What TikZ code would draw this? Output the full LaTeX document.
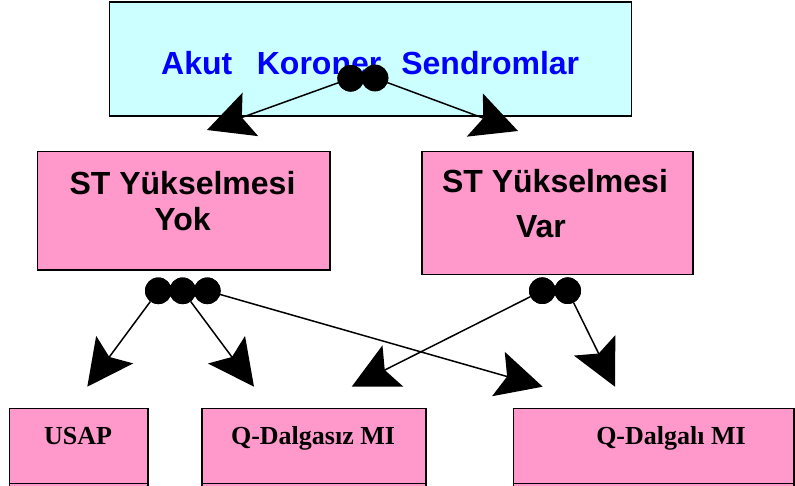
\documentclass[tikz,border=0pt]{standalone}
\usepackage{fontspec}
\setmainfont{Liberation Sans}
\newfontfamily\serifb{Liberation Serif}
\usetikzlibrary{arrows.meta}
\definecolor{cyanbg}{RGB}{204,255,255}
\definecolor{pinkbg}{RGB}{255,153,204}
\definecolor{titleblue}{RGB}{0,0,255}
\begin{document}
\begin{tikzpicture}[x=1pt,y=-1pt,
  box/.style={draw=black, line width=1.6pt, rectangle, inner sep=0pt, outer sep=0pt},
  pinkbox/.style={box, fill=pinkbg},
  dot/.style={circle, fill=black, inner sep=0pt, outer sep=0pt, minimum size=26.6pt},
  arr/.style={line width=1.5pt, -{Stealth[length=46pt,width=46pt,inset=9pt]}},
  sanstxt/.style={font=\bfseries\fontsize{32}{36}\selectfont, inner sep=0pt, anchor=base},
  seriftxt/.style={font=\serifb\bfseries\fontsize{26}{30}\selectfont, inner sep=0pt, anchor=base}]
\useasboundingbox (0,0) rectangle (795,486);
\clip (0,0) rectangle (795,486);

% boxes
\node[box, fill=cyanbg, minimum width=522pt, minimum height=114pt] (acs) at (370.5,59) {};
\node[pinkbox, minimum width=292.7pt, minimum height=118.3pt] (yok) at (183.65,210.85) {};
\node[pinkbox, minimum width=271.3pt, minimum height=122.8pt] (var) at (557.35,213.1) {};
\node[pinkbox, minimum width=138.4pt, minimum height=75.2pt] (usap) at (78.5,445.9) {};
\node[pinkbox, minimum width=224pt, minimum height=75.2pt] (qdz) at (313.7,445.9) {};
\node[pinkbox, minimum width=280.7pt, minimum height=75.2pt] (qd) at (653.65,445.9) {};
% continuation of the bottom boxes, cut by the picture edge
\node[pinkbox, minimum width=138.4pt, minimum height=40pt] (usapb) at (78.5,503.5) {};
\node[pinkbox, minimum width=224pt, minimum height=40pt] (qdzb) at (313.7,503.5) {};
\node[pinkbox, minimum width=280.7pt, minimum height=40pt] (qdb) at (653.65,503.5) {};

% texts
\node[font=\bfseries\fontsize{32}{36}\selectfont, text=titleblue, inner sep=0pt, anchor=base west]
  (acst) at (161,75) {Akut\hspace{24.6pt}Koroner\hspace{20pt}Sendromlar};
\node[sanstxt] (yok1) at (182.5,195) {ST Yükselmesi};
\node[sanstxt] (yok2) at (182.5,230.7) {Yok};
\node[sanstxt] (var1) at (555,192.7) {ST Yükselmesi};
\node[sanstxt] (var2) at (541,238) {Var};
\node[seriftxt] (usapt) at (78,444) {USAP};
\node[seriftxt] (qdzt) at (313,444) {Q-Dalgasız MI};
\node[seriftxt] (qdt) at (671,444) {Q-Dalgalı MI};

% dots
\node[dot] (k1) at (350.7,78.3) {};
\node[dot] (k2) at (375,78) {};
\node[dot] (y1) at (158.3,290.8) {};
\node[dot] (y2) at (182.7,290.8) {};
\node[dot] (y3) at (207.3,290.8) {};
\node[dot] (v1) at (542.3,290.7) {};
\node[dot] (v2) at (567.7,290.7) {};

% arrow tips
\coordinate (t1) at (207,130);
\coordinate (t2) at (518,131);
\coordinate (t3) at (87.3,386.7);
\coordinate (t4) at (254,386.7);
\coordinate (t5) at (542.7,386.7);
\coordinate (t6) at (351.7,386.7);
\coordinate (t7) at (615,386.7);

% connectors
\draw[arr] (k1) -- (t1);
\draw[arr] (k2) -- (t2);
\draw[arr] (y1) -- (t3);
\draw[arr] (y2) -- (t4);
\draw[arr] (y3) -- (t5);
\draw[arr] (v1) -- (t6);
\draw[arr] (v2) -- (t7);

% redraw dots on top
\fill (k1) circle (13.3pt) (k2) circle (13.3pt);
\fill (y1) circle (13.3pt) (y2) circle (13.3pt) (y3) circle (13.3pt);
\fill (v1) circle (13.3pt) (v2) circle (13.3pt);
\end{tikzpicture}
\end{document}
